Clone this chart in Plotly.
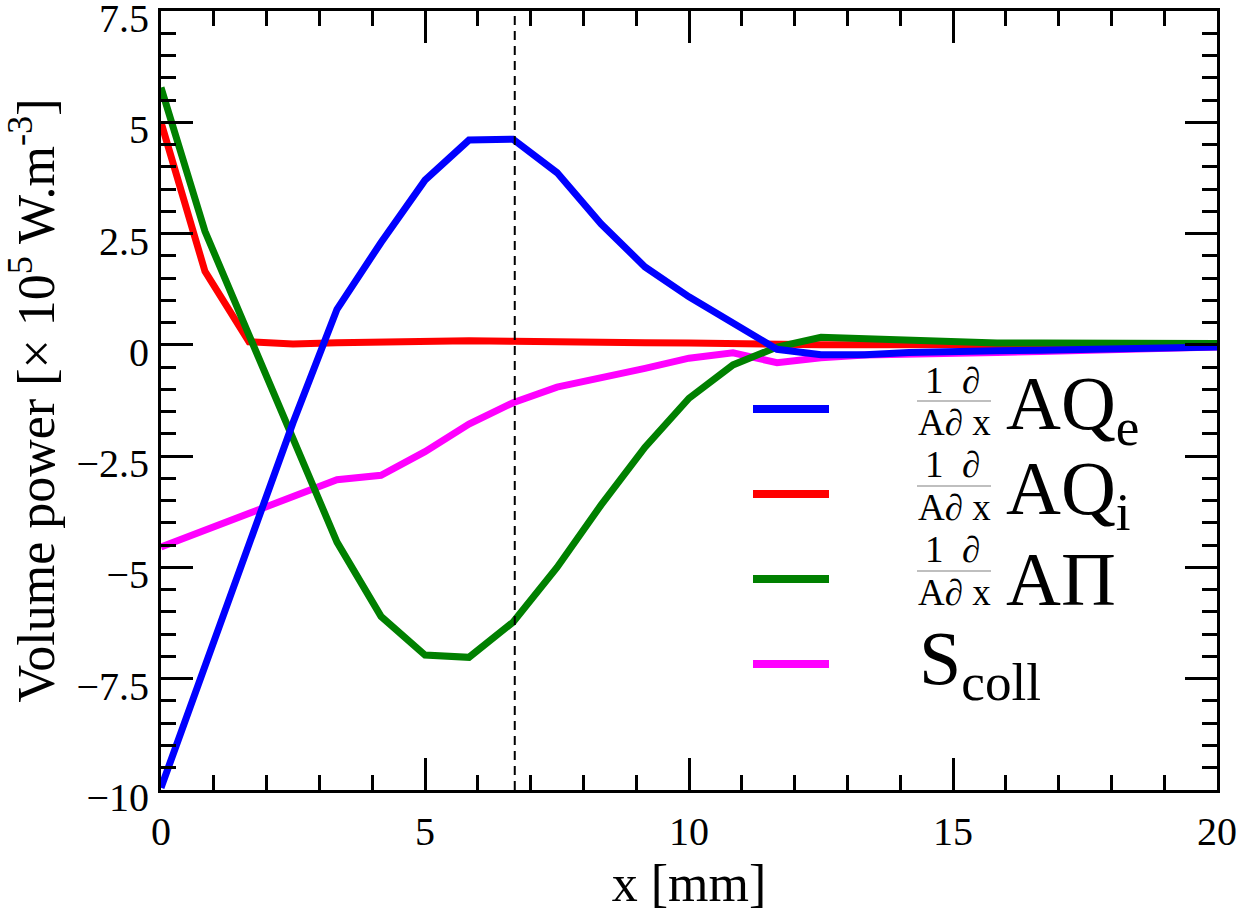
import plotly.graph_objects as go

# ---------------- data ----------------
x_mm = [0, 0.833, 1.667, 2.5, 3.333, 4.167, 5, 5.833, 6.667, 7.5, 8.333, 9.167, 10,
        10.833, 11.667, 12.5, 13.333, 14.167, 15, 15.833, 16.667, 17.5, 18.333, 19.167, 20]

div_qe = [-9.95, -7.2, -4.4, -1.75, 0.8, 2.3, 3.7, 4.6, 4.62, 3.87, 2.72, 1.75, 1.08,
          0.5, -0.1, -0.22, -0.22, -0.17, -0.14, -0.13, -0.12, -0.1, -0.09, -0.07, -0.05]
div_qi = [5.0, 1.65, 0.07, 0.02, 0.05, 0.07, 0.08, 0.09, 0.08, 0.08, 0.07, 0.05, 0.04,
          0.02, 0.01, 0.0, 0.0, 0.01, 0.01, 0.01, 0.01, 0.01, 0.01, 0.01, 0.01]
div_pi = [5.78, 2.55, 0.22, -2.1, -4.43, -6.1, -6.97, -7.02, -6.23, -5.0, -3.6, -2.3, -1.2,
          -0.45, -0.05, 0.17, 0.14, 0.08, 0.05, 0.04, 0.04, 0.03, 0.03, 0.03, 0.03]
s_coll = [-4.54, -4.16, -3.78, -3.4, -3.03, -2.93, -2.4, -1.78, -1.3, -0.95, -0.75, -0.53, -0.3,
          -0.18, -0.4, -0.29, -0.23, -0.2, -0.18, -0.17, -0.15, -0.13, -0.1, -0.08, -0.05]

x_marker = 6.7

y_tickvals = [-10, -7.5, -5, -2.5, 0, 2.5, 5, 7.5]
y_ticktext = ["\u221210", "\u22127.5", "\u22125", "\u22122.5", "0", "2.5", "5", "7.5"]
x_tickvals = [0, 5, 10, 15, 20]
x_ticktext = ["0", "5", "10", "15", "20"]

legend_big = ["AQ<sub>e</sub>", "AQ<sub>i</sub>", "A\u03a0", "S<sub>coll</sub>"]
legend_frac = [True, True, True, False]
colors = ["#0000ff", "#ff0000", "#008000", "#ff00ff"]
series = [div_qe, div_qi, div_pi, s_coll]

FONT = "Liberation Serif"

fig = go.Figure()
# draw order: magenta, red, green, blue (blue on top)
for idx in [3, 1, 2, 0]:
    fig.add_trace(go.Scatter(x=x_mm, y=series[idx], mode="lines",
                             line=dict(color=colors[idx], width=7),
                             showlegend=False, hoverinfo="skip"))

fig.add_shape(type="line", xref="x", yref="paper", x0=x_marker, x1=x_marker, y0=0, y1=1,
              line=dict(color="black", width=2, dash="9px,6px"))

# --------------- custom legend (paper coords from pixel layout) ---------------
L, R, T, B = 161, 1217, 11, 790
def PX(px):
    return (px - L) / (R - L)
def PY(py):
    return (B - py) / (B - T)

centers = [409, 494, 579, 664]
for i, c in enumerate(centers):
    fig.add_shape(type="line", xref="paper", yref="paper",
                  x0=PX(753), x1=PX(829), y0=PY(c), y1=PY(c),
                  line=dict(color=colors[i], width=8))
    if legend_frac[i]:
        fig.add_shape(type="line", xref="paper", yref="paper",
                      x0=PX(917), x1=PX(991), y0=PY(c - 8), y1=PY(c - 8),
                      line=dict(color="#aaaaaa", width=1.5))
        fig.add_annotation(xref="paper", yref="paper", x=PX(952), y=PY(c - 29),
                           text="1\u00a0\u00a0\u2202", showarrow=False,
                           xanchor="center", yanchor="middle",
                           font=dict(family=FONT, size=37, color="black"))
        fig.add_annotation(xref="paper", yref="paper", x=PX(954), y=PY(c + 13),
                           text="A\u2202\u00a0x", showarrow=False,
                           xanchor="center", yanchor="middle",
                           font=dict(family=FONT, size=37, color="black"))
        bx = 1004
    else:
        bx = 917
    fig.add_annotation(xref="paper", yref="paper", x=PX(bx), y=PY(c),
                       text=legend_big[i], showarrow=False,
                       xanchor="left", yanchor="middle",
                       font=dict(family=FONT, size=76, color="black"))

axis_common = dict(
    showline=True, linewidth=3, linecolor="black", mirror="ticks",
    ticks="inside", ticklen=32, tickwidth=2.5, tickcolor="black",
    showgrid=False, zeroline=False, ticklabeloverflow="allow", automargin=False,
    tickfont=dict(family=FONT, size=40, color="black"),
)

fig.update_xaxes(range=[0, 20], tickmode="array", tickvals=x_tickvals, ticktext=x_ticktext,
                 minor=dict(ticks="inside", ticklen=15, tickwidth=2.5, tickcolor="black", dtick=1,
                            showgrid=False),
                 title=dict(text="x [mm]", font=dict(family=FONT, size=52, color="black"),
                            standoff=12),
                 ticklabelstandoff=4,
                 **axis_common)
fig.update_yaxes(range=[-10, 7.5], tickmode="array", tickvals=y_tickvals, ticktext=y_ticktext,
                 minor=dict(ticks="inside", ticklen=15, tickwidth=2.5, tickcolor="black", dtick=0.5,
                            showgrid=False),
                 title=dict(text="Volume power [\u00d7 10<sup>5</sup> W.m<sup>-3</sup>]",
                            font=dict(family=FONT, size=52, color="black"), standoff=14),
                 ticklabelstandoff=1, ticklabelshift=7,
                 **axis_common)

fig.update_layout(width=1251, height=920, margin=dict(l=L, r=1251 - R, t=T, b=920 - B),
                  paper_bgcolor="white", plot_bgcolor="white", showlegend=False)

fig.write_html("out.html")
